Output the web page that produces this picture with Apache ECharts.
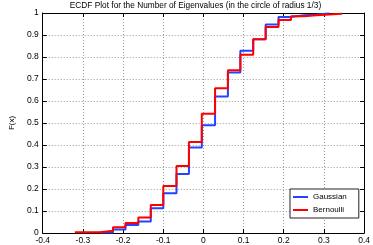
<!DOCTYPE html>
<html>
<head>
<meta charset="utf-8">
<script src="https://cdn.jsdelivr.net/npm/echarts@6/dist/echarts.min.js"></script>
<style>
html,body{margin:0;padding:0;background:#fff;}
#c{width:373px;height:245px;}
</style>
</head>
<body>
<div id="c"></div>
<script>
var titleText = 'ECDF Plot for the Number of Eigenvalues (in the circle of radius 1/3)';
var seriesNames = ['Gaussian', 'Bernoulli'];
var xTicks = [-0.4, -0.3, -0.2, -0.1, 0, 0.1, 0.2, 0.3, 0.4];
var yTicks = [0, 0.1, 0.2, 0.3, 0.4, 0.5, 0.6, 0.7, 0.8, 0.9, 1];

var gaussX = [-0.2575, -0.225, -0.194, -0.162, -0.131, -0.0998, -0.067, -0.036, -0.004, 0.029, 0.061, 0.092, 0.124, 0.155, 0.187, 0.218, 0.251, 0.281, 0.313];
var gaussF = [0.002, 0.016, 0.036, 0.052, 0.112, 0.181, 0.268, 0.389, 0.490, 0.621, 0.730, 0.828, 0.881, 0.948, 0.982, 0.990, 0.993, 0.998, 1.0];

var bernX = [-0.32, -0.2575, -0.225, -0.194, -0.162, -0.131, -0.0998, -0.067, -0.036, -0.004, 0.029, 0.061, 0.092, 0.124, 0.155, 0.187, 0.218, 0.251, 0.281, 0.313, 0.345];
var bernF = [0.003, 0.010, 0.026, 0.046, 0.071, 0.127, 0.214, 0.305, 0.414, 0.542, 0.658, 0.740, 0.810, 0.881, 0.936, 0.968, 0.985, 0.990, 0.993, 0.997, 1.0];

function pairs(xs, fs) { return xs.map(function (x, i) { return [x, fs[i]]; }); }

var FONT = 'Liberation Sans, Arial, sans-serif';
var chart = echarts.init(document.getElementById('c'), null, {renderer: 'canvas'});

var tickFmt = function (v) { return String(Math.round(v * 10) / 10); };

var baseX = {
  type: 'value', min: xTicks[0], max: xTicks[xTicks.length - 1], interval: 0.1,
  axisLine: {show: true, onZero: false, lineStyle: {color: '#000', width: 1}},
  axisTick: {show: true, inside: true, length: 4, lineStyle: {color: '#000'}},
  splitLine: {show: false}
};
var baseY = {
  type: 'value', min: yTicks[0], max: yTicks[yTicks.length - 1], interval: 0.1,
  axisLine: {show: true, onZero: false, lineStyle: {color: '#000', width: 1}},
  axisTick: {show: true, inside: true, length: 4, lineStyle: {color: '#000'}},
  splitLine: {show: false}
};

chart.setOption({
  animation: false,
  backgroundColor: '#fff',
  title: {
    text: titleText, left: 195.5, top: 1.5, padding: [0, 0, 0, 0], textAlign: 'center',
    textStyle: {fontFamily: FONT, fontSize: 8.3, fontWeight: 'normal', color: '#000'}
  },
  grid: {left: 24, right: 6, top: 13, bottom: 11, containLabel: false},
  legend: {
    orient: 'vertical', left: 290, top: 189,
    backgroundColor: '#fff', borderColor: '#222', borderWidth: 1,
    padding: [3, 12, 3, 3], itemGap: 3, itemWidth: 15, itemHeight: 2,
    textStyle: {fontFamily: FONT, fontSize: 8, color: '#000', lineHeight: 10},
    data: [{name: seriesNames[0], icon: 'rect'}, {name: seriesNames[1], icon: 'rect'}]
  },
  xAxis: [
    Object.assign({}, baseX, {
      position: 'bottom',
      axisLabel: {show: true, fontFamily: FONT, fontSize: 8.5, color: '#000', margin: 3, formatter: tickFmt},
      splitLine: {show: true, lineStyle: {color: '#999', type: [1, 2], width: 1}}
    }),
    Object.assign({}, baseX, {position: 'top', axisLabel: {show: false}})
  ],
  yAxis: [
    Object.assign({}, baseY, {
      position: 'left',
      name: 'F(x)', nameLocation: 'middle', nameGap: 22, nameRotate: 90,
      nameTextStyle: {fontFamily: FONT, fontSize: 8, color: '#000'},
      axisLabel: {show: true, fontFamily: FONT, fontSize: 8.5, color: '#000', margin: 4, formatter: tickFmt},
      splitLine: {show: true, lineStyle: {color: '#999', type: [1, 2], width: 1}}
    }),
    Object.assign({}, baseY, {position: 'right', axisLabel: {show: false}})
  ],
  series: [
    {
      name: seriesNames[0], type: 'line', step: 'end', xAxisIndex: 0, yAxisIndex: 0,
      symbol: 'none', lineStyle: {color: '#2244ff', width: 2}, itemStyle: {color: '#2244ff'},
      data: pairs(gaussX, gaussF)
    },
    {
      name: seriesNames[1], type: 'line', step: 'end', xAxisIndex: 0, yAxisIndex: 0,
      symbol: 'none', lineStyle: {color: '#ff0000', width: 2}, itemStyle: {color: '#ff0000'},
      data: pairs(bernX, bernF)
    }
  ]
});
</script>
</body>
</html>
